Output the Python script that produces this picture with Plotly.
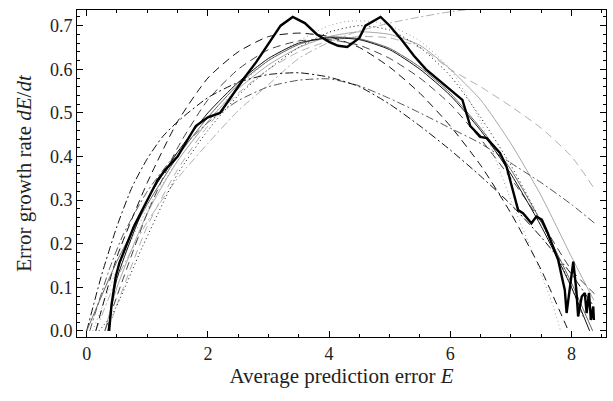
import plotly.graph_objects as go

# Observed (thick black) curve
data_x = [0.37, 0.38, 0.41, 0.48, 0.54, 0.78, 1.0, 1.17, 1.3, 1.5, 1.8, 2.0, 2.2, 2.4, 2.6, 2.8, 3.0, 3.2, 3.4, 3.6,
          3.8, 4.0, 4.15, 4.3, 4.5, 4.6, 4.85, 5.0, 5.2, 5.4, 5.6, 5.8, 6.0, 6.2, 6.33, 6.5, 6.6, 6.82, 6.93,
          7.04, 7.12, 7.2, 7.34, 7.42, 7.51, 7.61, 7.7, 7.78, 7.84, 7.89, 7.92, 7.98, 8.03, 8.08, 8.11, 8.17,
          8.22, 8.25, 8.29, 8.32, 8.36, 8.37]
data_y = [0.0, 0.02, 0.06, 0.125, 0.156, 0.24, 0.3, 0.346, 0.37, 0.4, 0.47, 0.49, 0.5, 0.54, 0.58, 0.617, 0.658, 0.70,
          0.72, 0.706, 0.68, 0.663, 0.654, 0.651, 0.672, 0.70, 0.72, 0.70, 0.667, 0.631, 0.60, 0.576, 0.553,
          0.53, 0.47, 0.445, 0.442, 0.408, 0.376, 0.316, 0.277, 0.27, 0.247, 0.262, 0.255, 0.224, 0.193,
          0.163, 0.125, 0.094, 0.041, 0.10, 0.159, 0.094, 0.033, 0.079, 0.087, 0.041, 0.087, 0.025, 0.056, 0.025]

# Fitted model curves
s1_x = [0.35, 0.5, 1, 1.5, 2, 2.5, 3, 3.5, 4, 4.5, 5, 5.5, 6, 6.5, 7, 7.5, 8, 8.3]
s1_y = [0.0, 0.12, 0.3, 0.41, 0.5, 0.57, 0.625, 0.66, 0.672, 0.668, 0.645, 0.6, 0.54, 0.46, 0.36, 0.24, 0.1, 0.0]

s2_x = [0.0, 0.5, 1, 1.5, 2, 2.5, 3, 3.5, 4, 4.5, 5, 5.5, 6, 6.5, 7, 7.5, 8, 8.35]
s2_y = [0.0, 0.16, 0.29, 0.4, 0.49, 0.565, 0.62, 0.657, 0.674, 0.67, 0.648, 0.605, 0.545, 0.465, 0.37, 0.25, 0.11, 0.0]

s3_x = [0.3, 0.5, 1, 1.5, 2, 2.5, 3, 3.5, 4, 4.5, 5, 5.5, 6, 6.5, 7, 7.5, 8, 8.37]
s3_y = [0.0, 0.1, 0.27, 0.39, 0.48, 0.555, 0.61, 0.65, 0.675, 0.686, 0.68, 0.655, 0.6, 0.53, 0.43, 0.31, 0.17, 0.07]

d1_x = [0.15, 0.5, 1, 1.5, 2, 2.5, 3, 3.5, 4, 4.5, 5, 5.5, 6, 6.5, 7, 7.5, 7.95]
d1_y = [0.0, 0.17, 0.34, 0.48, 0.58, 0.64, 0.675, 0.683, 0.675, 0.65, 0.605, 0.545, 0.47, 0.38, 0.27, 0.14, 0.0]

d2_x = [0.3, 0.5, 1, 1.5, 2, 2.5, 3, 3.5, 4, 4.5, 5, 5.5, 6, 6.5, 7, 7.5, 8, 8.38]
d2_y = [0.0, 0.08, 0.27, 0.42, 0.53, 0.6, 0.645, 0.665, 0.668, 0.655, 0.625, 0.58, 0.52, 0.44, 0.35, 0.25, 0.14, 0.085]

d3_x = [0.35, 0.5, 1, 1.5, 2, 2.5, 3, 3.5, 4, 4.5, 5, 5.5, 6, 6.5, 7, 7.5, 8, 8.36]
d3_y = [0.0, 0.06, 0.24, 0.37, 0.47, 0.545, 0.6, 0.64, 0.665, 0.675, 0.672, 0.65, 0.6, 0.56, 0.515, 0.465, 0.4, 0.33]

dd1_x = [0.0, 0.25, 0.5, 0.75, 1.0, 1.25, 1.5, 2, 2.5, 3, 3.5, 4, 4.5, 5, 5.5, 6, 6.5, 7, 7.5, 8, 8.35]
dd1_y = [0.0, 0.13, 0.24, 0.33, 0.395, 0.445, 0.48, 0.535, 0.57, 0.588, 0.592, 0.582, 0.56, 0.52, 0.47, 0.415,
         0.355, 0.29, 0.215, 0.13, 0.06]

gdd_x = [0.05, 0.37, 0.6, 1, 1.5, 2, 2.5, 3, 3.5, 4, 4.5, 5, 5.5, 6, 6.5, 7, 7.5, 8, 8.4]
gdd_y = [0.0, 0.14, 0.22, 0.32, 0.41, 0.478, 0.528, 0.56, 0.575, 0.578, 0.562, 0.533, 0.5, 0.465, 0.43, 0.385,
         0.34, 0.29, 0.245]

lgdd_x = [0.15, 0.5, 1, 1.5, 2, 2.5, 3, 3.5, 4, 4.5, 5, 5.5, 6, 6.5, 7]
lgdd_y = [0.0, 0.12, 0.25, 0.35, 0.43, 0.505, 0.565, 0.625, 0.662, 0.688, 0.706, 0.72, 0.732, 0.74, 0.745]

dot1_x = [0.2, 0.43, 0.92, 1.31, 1.5, 2, 2.5, 3, 3.5, 4, 4.5, 5, 5.5, 6, 6.5, 7, 7.5, 8, 8.2]
dot1_y = [0.0, 0.04, 0.193, 0.308, 0.36, 0.46, 0.54, 0.6, 0.65, 0.685, 0.7, 0.69, 0.65, 0.585, 0.49, 0.38, 0.25,
          0.1, 0.03]

dot2_x = [0.1, 0.5, 1, 1.5, 2, 2.5, 3, 3.5, 4, 4.3, 4.7, 5, 5.5, 6, 6.5, 7, 7.43, 7.7, 7.82]
dot2_y = [0.0, 0.14, 0.28, 0.39, 0.48, 0.56, 0.62, 0.665, 0.7, 0.71, 0.71, 0.7, 0.665, 0.6, 0.48, 0.3, 0.156,
          0.056, 0.0]

x_ticks = [0, 2, 4, 6, 8]
y_ticks = [0.0, 0.1, 0.2, 0.3, 0.4, 0.5, 0.6, 0.7]
y_tick_labels = ["0.0", "0.1", "0.2", "0.3", "0.4", "0.5", "0.6", "0.7"]

fig = go.Figure()

def add(x, y, color, dash, width=1.0, shape="spline"):
    fig.add_trace(go.Scatter(x=x, y=y, mode="lines",
                             line=dict(color=color, dash=dash, width=width, shape=shape, smoothing=0.6),
                             showlegend=False, hoverinfo="skip"))

add(lgdd_x, lgdd_y, "#b0b0b0", "8px,3px,2px,3px")
add(d3_x, d3_y, "#b0b0b0", "8px,5px")
add(s3_x, s3_y, "#a8a8a8", "solid")
add(dot2_x, dot2_y, "#a0a0a0", "1px,3px")
add(gdd_x, gdd_y, "#555555", "8px,3px,2px,3px")
add(dd1_x, dd1_y, "#111111", "8px,3px,2px,3px")
add(d2_x, d2_y, "#444444", "8px,5px")
add(d1_x, d1_y, "#111111", "8px,5px")
add(dot1_x, dot1_y, "#111111", "1px,3px")
add(s2_x, s2_y, "#666666", "solid")
add(s1_x, s1_y, "#111111", "solid")
add(data_x, data_y, "#000000", "solid", width=2.4, shape="linear")

font = dict(family="Liberation Serif, DejaVu Serif, serif", size=18, color="#222222")

fig.update_layout(
    width=613, height=401,
    margin=dict(l=77, r=7, t=10, b=64),
    paper_bgcolor="white", plot_bgcolor="white",
    font=font,
)
fig.update_xaxes(
    range=[-0.16, 8.57], tickvals=x_ticks, ticks="inside", ticklen=6, tickcolor="black",
    showline=True, linecolor="black", linewidth=1, mirror="ticks", showgrid=False, zeroline=False,
    automargin=False,
    minor=dict(dtick=0.5, tick0=0, ticks="inside", ticklen=3, tickcolor="black", showgrid=False),
    title=dict(text="Average prediction error <i>E</i>", font=dict(size=21), standoff=0),
    tickfont=dict(size=18),
)
fig.update_yaxes(
    range=[-0.014, 0.736], tickvals=y_ticks, ticktext=y_tick_labels, ticks="inside", ticklen=6,
    tickcolor="black", showline=True, linecolor="black", linewidth=1, mirror="ticks", showgrid=False,
    zeroline=False, automargin=False,
    minor=dict(dtick=0.02, tick0=0, ticks="inside", ticklen=3, tickcolor="black", showgrid=False),
    title=dict(text="Error growth rate <i>dE</i>/<i>dt</i>", font=dict(size=21), standoff=12),
    tickfont=dict(size=18),
)

fig.write_html("out.html", config={"displayModeBar": False},
               post_script="document.body.style.margin='0';document.body.style.overflow='hidden';")
